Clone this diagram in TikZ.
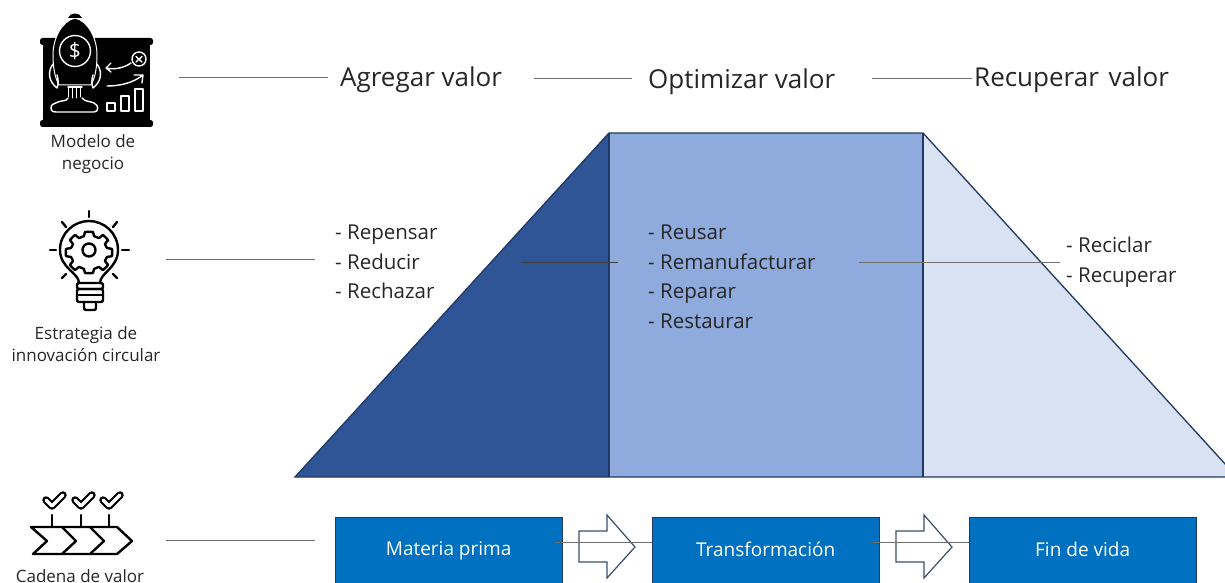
\documentclass[tikz,border=0pt]{standalone}
\usepackage{fontspec}
\setmainfont{Open Sans}
\definecolor{navy}{HTML}{1F3864}
\definecolor{darkblue}{HTML}{2F5597}
\definecolor{midblue}{HTML}{8FAADC}
\definecolor{lightblue}{HTML}{D9E2F3}
\definecolor{boxblue}{HTML}{0070C0}
\definecolor{txt}{HTML}{262626}
\definecolor{linegray}{HTML}{6E6E6E}
\tikzset{
  head/.style={font=\fontsize{26}{26}\selectfont,text=txt,inner sep=0pt,anchor=base west},
  lab/.style={font=\fontsize{17}{22}\selectfont,text=txt,inner sep=0pt,align=center,anchor=center},
  item/.style={font=\fontsize{20.5}{21}\selectfont,text=txt,inner sep=0pt,anchor=base west},
  bluebox/.style={draw=navy,line width=.8pt,fill=boxblue,text=white,font=\fontsize{19}{19}\selectfont,minimum width=226.5pt,minimum height=66pt,inner sep=0pt,anchor=north west},
  blockarrow/.style={draw=navy!70!gray,line width=1.2pt,fill=white},
  conn/.style={draw=linegray,line width=.8pt},
  connd/.style={draw=black!75,line width=.8pt},
  area/.style={draw=navy,line width=1.3pt},
  ic/.style={line width=2.4pt,draw=black,line cap=round,line join=round},
  icw/.style={line width=1.4pt,draw=white,line cap=round,line join=round},
}
\begin{document}
\begin{tikzpicture}[x=1pt,y=-1pt]
\useasboundingbox (0,0) rectangle (1225,583);
\clip (0,0) rectangle (1225,583);
% areas
\fill[darkblue] (295,477) -- (609,133) -- (609,477) -- cycle;
\fill[midblue] (609,133) rectangle (923,477);
\fill[lightblue] (923,133) -- (1237,477) -- (923,477) -- cycle;
\draw[area] (295,477) -- (609,133) -- (923,133) -- (1237,477) -- cycle;
\draw[area] (609,133) -- (609,477);
\draw[area] (923,133) -- (923,477);
% headings
\node[head] (h1) at (340,87) {Agregar valor};
\node[head] (h2) at (648,89) {Optimizar valor};
\node[head] (h3) at (974,87) {Recuperar\hspace{3pt} valor};
% lists
\node[item] (a1) at (335,239) {- Repensar};
\node[item] (a2) at (335,269) {- Reducir};
\node[item] (a3) at (335,298) {- Rechazar};
\node[item] (b1) at (648,239) {- Reusar};
\node[item] (b2) at (648,269) {- Remanufacturar};
\node[item] (b3) at (648,298) {- Reparar};
\node[item] (b4) at (648,328) {- Restaurar};
\node[item] (c1) at (1066,252) {- Reciclar};
\node[item] (c2) at (1066,282) {- Recuperar};
% boxes
\node[bluebox] (m) at (335,517) {\raisebox{2pt}{Materia prima}};
\node[bluebox] (t) at (652,517) {\raisebox{2pt}{Transformación}};
\node[bluebox] (f) at (969,517) {\raisebox{2pt}{Fin de vida}};
% connector ends
\coordinate (i1) at (179,77);
\coordinate (i2) at (166,259);
\coordinate (i3) at (166,540);
\draw[conn] (i1) -- (328,77);
\draw[conn] (534,78) -- (632,78);
\draw[conn] (872,78) -- (972,78);
\draw[conn] (i2) -- (315,259);
\draw[connd] (521,262) -- (618,262);
\draw[conn] (859,262) -- (1060,262);
\draw[conn] (i3) -- (315,540);
% block arrows
\draw[blockarrow,fill=white] (579,531) -- (607,531) -- (607,515) -- (635,547) -- (607,578) -- (607,562) -- (579,562) -- cycle;
\draw[blockarrow,fill=white] (896,531) -- (924,531) -- (924,515) -- (952,547) -- (924,578) -- (924,562) -- (896,562) -- cycle;
\draw[conn] (555,542) -- (t.west |- 0,542);
\draw[conn] (872,542) -- (f.west |- 0,542);
% --- rocket icon
\fill[black,rounded corners=2.5pt] (40,38) rectangle (153,45);
\fill[black,rounded corners=2.5pt] (40,120) rectangle (153,127);
\fill[black] (43,41) rectangle (150,124);
\draw[white,line width=1pt,fill=black] (75,18) .. controls (88,21) and (97,38) .. (97,55) .. controls (97,68) and (95,78) .. (91,85) -- (59,85) .. controls (55,78) and (53,68) .. (53,55) .. controls (53,38) and (62,21) .. (75,18) -- cycle;
\fill[black] (68,18) .. controls (70,12) and (80,12) .. (82,18) -- cycle;
\draw[icw] (75,51) circle (15.5);
\node[text=white,font=\fontsize{21}{21}\selectfont,inner sep=0pt] (dollar) at (75,51) {\$};
\draw[icw] (53,64) .. controls (47,72) and (49,82) .. (57,88) .. controls (59,84) and (58,78) .. (57,75);
\draw[icw] (97,64) .. controls (103,72) and (101,82) .. (93,88) .. controls (91,84) and (92,78) .. (93,75);
\draw[icw] (68,87) -- (82,87);
\draw[icw,line width=1pt] (68,88) -- (68,97) (72,88) -- (72,98) (76,88) -- (76,98) (80,88) -- (80,97);
\draw[icw] (68,98) .. controls (66,102) and (62,100) .. (58,102) .. controls (54,104) and (51,104) .. (51,108) .. controls (51,112) and (54,112) .. (58,112) -- (94,112) .. controls (99,112) and (99,105) .. (94,103) .. controls (90,101) and (85,102) .. (82,98);
\draw[icw] (139,59) circle (7);
\draw[icw] (136,56.5) -- (142,62) (142,56.5) -- (136,62);
\draw[icw] (131,63) .. controls (124,68) and (114,70) .. (106,68) (111,63) -- (106,68) -- (111,72);
\draw[icw] (107,86) .. controls (120,86) and (133,83) .. (143,75) (134,75) -- (143,75) -- (142,83);
\draw[icw] (107,111) rectangle (115,103);
\draw[icw] (121,111) rectangle (129,96);
\draw[icw] (135,111) rectangle (143,89);
\node[lab] (t1) at (93,154) {Modelo de\\negocio};
% --- bulb icon
\begin{scope}[ic]
\draw (89,211) -- (89,217) (50,250) -- (56,250) (122,250) -- (129,250);
\draw (62,222) -- (66,227) (117,222) -- (113,227) (62,278) -- (66,274) (117,278) -- (113,274);
\draw (79,283) .. controls (79,273) and (60,268) .. (60,250) .. controls (60,233) and (74,221) .. (89,221) .. controls (104,221) and (118,233) .. (118,250) .. controls (118,268) and (100,273) .. (100,283);
\draw[rounded corners=2pt] (77,289) -- (77,283) -- (103,283) -- (103,289) -- cycle;
\draw[rounded corners=2pt] (77,289) rectangle (103,302);
\draw (77,295) -- (103,295);
\draw[rounded corners=2pt] (84,302) -- (84,310) -- (96,310) -- (96,302);
\draw (89,250) circle (6.5);
\draw plot[smooth cycle,tension=.15] coordinates {
  (85,232) (93,232) (94,236) (99,238) (103,235) (108,240) (105,244) (107,248) (112,249) (112,256) (107,257) (105,261) (108,265) (103,270) (99,267) (94,269) (93,273) (85,273) (84,269) (79,267) (75,270) (70,265) (73,261) (71,257) (66,256) (66,249) (71,248) (73,244) (70,240) (75,235) (79,238) (84,236)};
\end{scope}
\node[lab] (t2) at (86,344) {Estrategia de\\innovación circular};
% --- chain icon
\begin{scope}[ic]
\draw (31,527) -- (117,527) -- (132,541) -- (117,554) -- (33,554) -- (47,541) -- cycle;
\draw (62,527) -- (76,541) -- (62,554);
\draw (90,527) -- (104,541) -- (90,554);
\draw (52,527) -- (52,515) (81,527) -- (81,515) (109,527) -- (109,515);
\end{scope}
\foreach \cx in {55,84,112}{
  \draw[black,line width=7.5pt,line cap=round,line join=round] (\cx-9,500) -- (\cx-3,506) -- (\cx+8,495);
  \draw[white,line width=3.4pt,line cap=round,line join=round] (\cx-9,500) -- (\cx-3,506) -- (\cx+8,495);
}
\node[lab] (t3) at (80,576) {Cadena de valor};
\end{tikzpicture}
\end{document}
